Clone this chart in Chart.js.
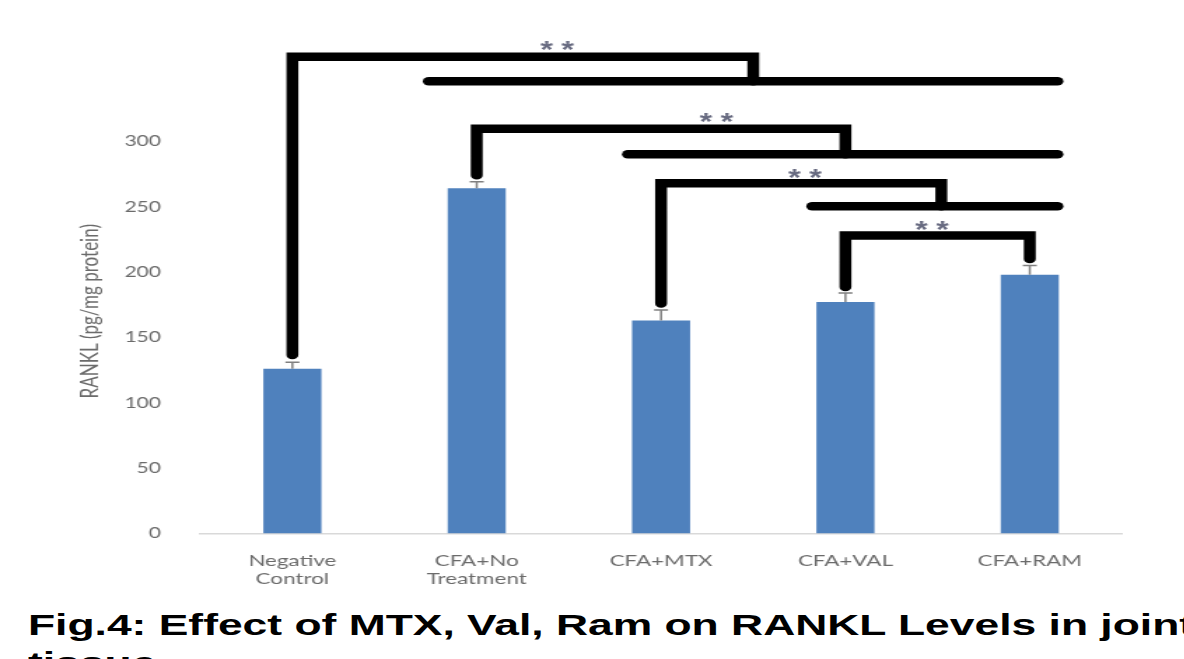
<!DOCTYPE html>
<html>
<head>
<meta charset="utf-8">
<title>Fig.4 RANKL</title>
<script src="https://cdn.jsdelivr.net/npm/chart.js@4.4.0/dist/chart.umd.min.js"></script>
<style>
	html, body { margin: 0; padding: 0; background: #fff; overflow: hidden; width: 1184px; height: 659px; }
	#chart-wrap { position: absolute; left: 0; top: 0; width: 846px; height: 600px; transform: scaleX(1.4); transform-origin: 0 0; }
	#caption { position: absolute; left: 28px; top: 606px; width: 830px; font-family: "Liberation Sans", Arial, sans-serif; font-weight: bold; font-size: 30px; line-height: 38px; color: #000; transform: scaleX(1.48); transform-origin: 0 0; white-space: normal; }
</style>
</head>
<body>
<div id="chart-wrap"><canvas id="chart-rankl"></canvas></div>
<div id="caption">Fig.4: Effect of MTX, Val, Ram on RANKL Levels in joint tissue</div>
<script>
const categories = [['Negative', 'Control'], ['CFA+No', 'Treatment'], 'CFA+MTX', 'CFA+VAL', 'CFA+RAM'];
const ranklMeans = [126, 264, 163, 177, 198];
const ranklErrors = [5, 5, 8, 7, 7];
const yTickValues = [0, 50, 100, 150, 200, 250, 300];

// significance brackets, as [category index, RANKL value] points
const bracketPaths = [
	[[0, 136.5], [0, 364.7], [2.5, 364.7], [2.5, 346]],
	[[0.74, 346], [4.15, 346]],
	[[1, 274], [1, 309.6], [3, 309.6], [3, 290]],
	[[1.82, 290], [4.15, 290]],
	[[2, 176], [2, 268], [3.52, 268], [3.52, 250.4]],
	[[2.82, 250.4], [4.15, 250.4]],
	[[3, 188.5], [3, 228], [4, 228], [4, 210]]
];
const starMarks = [[1.436, 373.5], [2.3, 318.4], [2.78, 275.6], [3.47, 235.9]];

const grey = '#6b6b6b';

const errorBars = {
	id: 'errorBars',
	afterDatasetsDraw(chart) {
		const ctx = chart.ctx;
		const y = chart.scales.y;
		const meta = chart.getDatasetMeta(0);
		ctx.save();
		ctx.strokeStyle = '#808080';
		ctx.lineWidth = 1.5;
		meta.data.forEach((bar, i) => {
			const top = y.getPixelForValue(ranklMeans[i] + ranklErrors[i]);
			ctx.beginPath();
			ctx.moveTo(bar.x, bar.y);
			ctx.lineTo(bar.x, top);
			ctx.moveTo(bar.x - 5, top);
			ctx.lineTo(bar.x + 5, top);
			ctx.stroke();
		});
		ctx.restore();
	}
};

const brackets = {
	id: 'brackets',
	afterDatasetsDraw(chart) {
		const ctx = chart.ctx;
		const x = chart.scales.x;
		const y = chart.scales.y;
		ctx.save();
		ctx.strokeStyle = '#000';
		ctx.lineWidth = 8.5;
		ctx.lineCap = 'round';
		ctx.lineJoin = 'miter';
		bracketPaths.forEach(path => {
			ctx.beginPath();
			path.forEach((p, i) => {
				const px = x.getPixelForValue(p[0]);
				const py = y.getPixelForValue(p[1]);
				if (i === 0) ctx.moveTo(px, py);
				else ctx.lineTo(px, py);
			});
			ctx.stroke();
		});
		ctx.fillStyle = '#676a80';
		ctx.font = 'bold 23px "Liberation Sans", Arial, sans-serif';
		ctx.textAlign = 'center';
		ctx.textBaseline = 'alphabetic';
		starMarks.forEach(s => {
			const px = x.getPixelForValue(s[0]);
			const py = y.getPixelForValue(s[1]) + 23 * 0.57;
			ctx.fillText('*', px - 7.5, py);
			ctx.fillText('*', px + 7.5, py);
		});
		ctx.restore();
	}
};

function renderChart() {
	const ctx = document.getElementById('chart-rankl');
	new Chart(ctx, {
		type: 'bar',
		data: {
			labels: categories,
			datasets: [{
				label: 'RANKL',
				data: ranklMeans,
				backgroundColor: '#4f81bd',
				borderWidth: 0,
				barPercentage: 0.9,
				categoryPercentage: 0.35
			}]
		},
		options: {
			responsive: true,
			maintainAspectRatio: false,
			animation: false,
			devicePixelRatio: 1,
			layout: { padding: { top: 89, right: 44.6, bottom: 0, left: 0 } },
			plugins: {
				legend: { display: false },
				tooltip: { enabled: false }
			},
			scales: {
				x: {
					grid: { display: false },
					border: { display: true, color: '#d9d9d9', width: 1.5 },
					ticks: {
						color: grey,
						padding: 10,
						maxRotation: 0,
						autoSkip: false,
						font: { family: 'Lato, "Open Sans", sans-serif', size: 16, lineHeight: 1.15 }
					},
					afterFit: s => { s.height = 66.5; }
				},
				y: {
					min: 0,
					max: 340,
					grid: { display: false },
					border: { display: false },
					afterBuildTicks: s => { s.ticks = yTickValues.map(v => ({ value: v })); },
					ticks: {
						color: grey,
						padding: 20,
						font: { family: 'Lato, "Open Sans", sans-serif', size: 15 }
					},
					title: {
						display: true,
						text: 'RANKL (pg/mg protein)',
						color: grey,
						padding: { top: 54, bottom: 0 },
						font: { family: 'Lato, "Open Sans", sans-serif', size: 17, lineHeight: 1.2 }
					},
					afterFit: s => { s.width = 143; }
				}
			}
		},
		plugins: [errorBars, brackets]
	});
}

renderChart();
</script>
</body>
</html>
